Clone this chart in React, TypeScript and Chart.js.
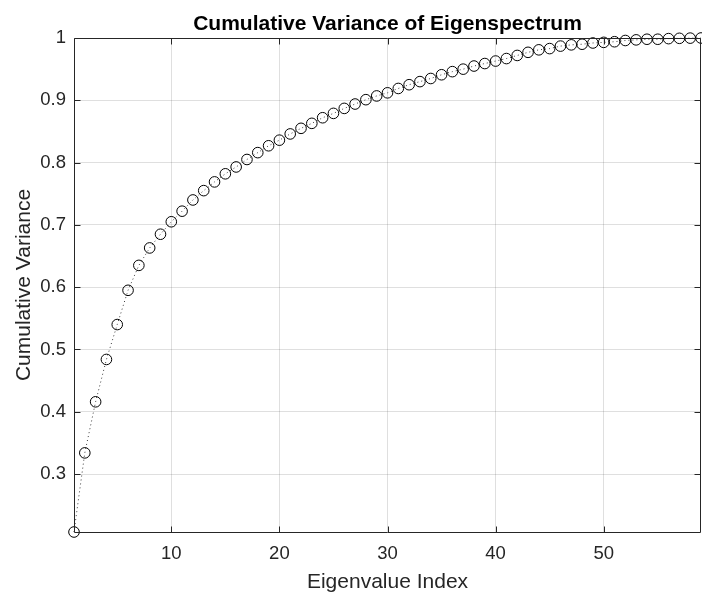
import { useEffect, useRef } from "react";
import { Chart, registerables } from "chart.js";

Chart.register(...registerables);

// Eigenvalue indices (x) and the running share of variance they explain (y)
const eigenIndex = [
  1, 2, 3, 4, 5, 6, 7, 8, 9, 10,
  11, 12, 13, 14, 15, 16, 17, 18, 19, 20,
  21, 22, 23, 24, 25, 26, 27, 28, 29, 30,
  31, 32, 33, 34, 35, 36, 37, 38, 39, 40,
  41, 42, 43, 44, 45, 46, 47, 48, 49, 50,
  51, 52, 53, 54, 55, 56, 57, 58, 59,
];

const cumulativeVariance = [
  0.207, 0.334, 0.416, 0.484, 0.540, 0.595, 0.635, 0.663, 0.685, 0.705,
  0.722, 0.740, 0.755, 0.769, 0.782, 0.793, 0.805, 0.816, 0.827, 0.836,
  0.846, 0.855, 0.863, 0.872, 0.879, 0.887, 0.894, 0.901, 0.907, 0.912,
  0.919, 0.925, 0.930, 0.935, 0.941, 0.946, 0.950, 0.955, 0.959, 0.963,
  0.967, 0.972, 0.977, 0.981, 0.983, 0.987, 0.989, 0.990, 0.992, 0.993,
  0.994, 0.996, 0.997, 0.998, 0.998, 0.999, 0.9995, 0.9998, 1.0,
];

const xTicks = [10, 20, 30, 40, 50];
const yTicks = [0.3, 0.4, 0.5, 0.6, 0.7, 0.8, 0.9, 1];

const titleText = "Cumulative Variance of Eigenspectrum";
const xLabel = "Eigenvalue Index";
const yLabel = "Cumulative Variance";

const AXIS_COLOR = "#262626";
const GRID_COLOR = "rgba(38,38,38,0.15)";
const FONT = "'Liberation Sans', Arial, Helvetica, sans-serif";
const TICK_LEN = 6;

// Boxed axes with inward tick marks on all four sides, plus the bold title
const boxedAxes = {
  id: "boxedAxes",
  afterDatasetsDraw(chart: any) {
    const { ctx, chartArea, scales } = chart;
    const l = Math.round(chartArea.left) + 0.5;
    const r = Math.round(chartArea.right) - 0.5;
    const t = Math.round(chartArea.top) + 0.5;
    const b = Math.round(chartArea.bottom) + 0.5;
    ctx.save();
    ctx.strokeStyle = AXIS_COLOR;
    ctx.lineWidth = 1;
    ctx.setLineDash([]);
    ctx.beginPath();
    ctx.rect(l, t, r - l, b - t);
    for (const v of xTicks) {
      const px = Math.round(scales.x.getPixelForValue(v)) + 0.5;
      ctx.moveTo(px, b);
      ctx.lineTo(px, b - TICK_LEN);
      ctx.moveTo(px, t);
      ctx.lineTo(px, t + TICK_LEN);
    }
    for (const v of yTicks) {
      const py = Math.round(scales.y.getPixelForValue(v)) + 0.5;
      ctx.moveTo(l, py);
      ctx.lineTo(l + TICK_LEN, py);
      ctx.moveTo(r, py);
      ctx.lineTo(r - TICK_LEN, py);
    }
    ctx.stroke();
    ctx.restore();
  },
  afterDraw(chart: any) {
    const { ctx, chartArea } = chart;
    ctx.save();
    ctx.fillStyle = "#000000";
    ctx.font = `bold 21px ${FONT}`;
    ctx.textAlign = "center";
    ctx.textBaseline = "alphabetic";
    ctx.fillText(titleText, (chartArea.left + chartArea.right) / 2, 30);
    ctx.restore();
  },
};

export default function App() {
  const canvasRef = useRef<HTMLCanvasElement | null>(null);

  useEffect(() => {
    const canvas = canvasRef.current;
    if (!canvas) return;

    const points = eigenIndex.map((x, i) => ({ x, y: cumulativeVariance[i] }));

    const chart = new Chart(canvas, {
      type: "line",
      data: {
        datasets: [
          {
            data: points,
            borderColor: "#3a3a3a",
            borderWidth: 1,
            borderDash: [1, 3],
            tension: 0,
            pointStyle: "circle",
            pointRadius: 5.3,
            pointHoverRadius: 5.3,
            pointBorderWidth: 1,
            pointBorderColor: "#000000",
            pointBackgroundColor: "rgba(0,0,0,0)",
            clip: false as any,
          },
        ],
      },
      options: {
        responsive: false,
        animation: false,
        events: [],
        layout: { autoPadding: false, padding: { top: 38, right: 1, left: 0, bottom: 0 } },
        plugins: {
          legend: { display: false },
          tooltip: { enabled: false },
          title: { display: false },
        },
        scales: {
          x: {
            type: "linear",
            min: 1,
            max: 59,
            afterBuildTicks: (scale: any) => {
              scale.ticks = xTicks.map((value) => ({ value }));
            },
            afterFit: (scale: any) => {
              scale.height = 60;
            },
            ticks: {
              color: AXIS_COLOR,
              font: { family: FONT, size: 18.5 },
              padding: 11,
              maxRotation: 0,
              autoSkip: false,
              callback: (v: any) => String(v),
            },
            grid: { color: GRID_COLOR, drawTicks: false, lineWidth: 1 },
            border: { display: false },
            title: {
              display: true,
              text: xLabel,
              color: AXIS_COLOR,
              font: { family: FONT, size: 21, lineHeight: 0.9 },
              padding: { top: 0, bottom: 0 },
            },
          },
          y: {
            type: "linear",
            min: 0.207,
            max: 1,
            afterBuildTicks: (scale: any) => {
              scale.ticks = yTicks.map((value) => ({ value }));
            },
            afterFit: (scale: any) => {
              scale.width = 74;
            },
            ticks: {
              color: AXIS_COLOR,
              font: { family: FONT, size: 18.5 },
              padding: 8,
              autoSkip: false,
              callback: (v: any) => (Number(v) === 1 ? "1" : Number(v).toFixed(1)),
            },
            grid: { color: GRID_COLOR, drawTicks: false, lineWidth: 1 },
            border: { display: false },
            title: {
              display: true,
              text: yLabel,
              color: AXIS_COLOR,
              font: { family: FONT, size: 21, lineHeight: 0.9 },
              padding: { top: 15, bottom: 0 },
            },
          },
        },
      },
      plugins: [boxedAxes],
    });

    return () => {
      chart.destroy();
    };
  }, []);

  return (
    <canvas
      ref={canvasRef}
      width={702}
      height={592}
      style={{
        position: "absolute",
        left: 0,
        top: 0,
        width: "702px",
        height: "592px",
        display: "block",
        background: "#ffffff",
      }}
    />
  );
}
